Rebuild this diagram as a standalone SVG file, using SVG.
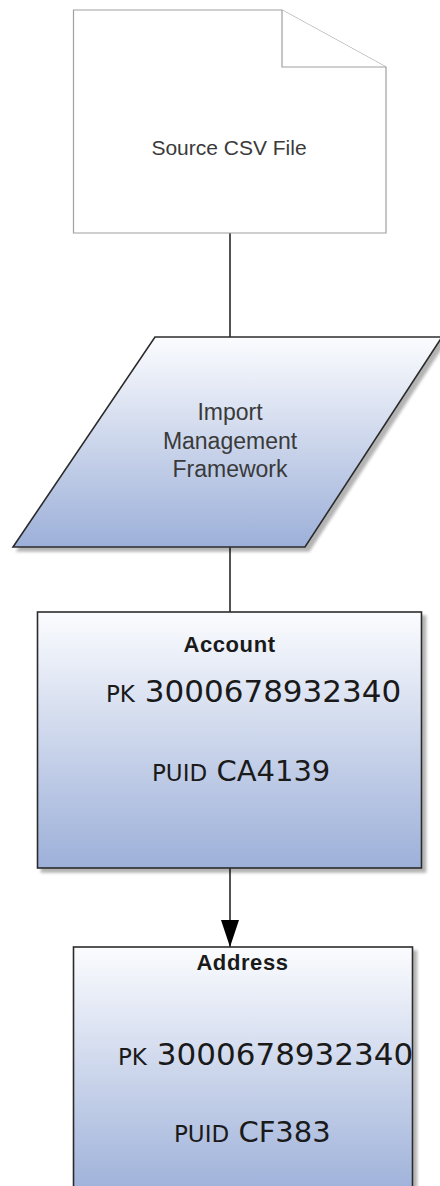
<svg xmlns="http://www.w3.org/2000/svg" width="440" height="1186" viewBox="0 0 440 1186">
<defs>
<linearGradient id="blue" x1="0" y1="0" x2="0" y2="1">
<stop offset="0" stop-color="#fbfcfe"/>
<stop offset="1" stop-color="#9db0d9"/>
</linearGradient>
<filter id="shadow" x="-10%" y="-10%" width="125%" height="125%">
<feGaussianBlur in="SourceAlpha" stdDeviation="1.5"/>
<feOffset dx="4" dy="4" result="b"/>
<feComponentTransfer><feFuncA type="linear" slope="0.3"/></feComponentTransfer>
<feMerge><feMergeNode/><feMergeNode in="SourceGraphic"/></feMerge>
</filter>
<marker id="arrow" markerWidth="27" markerHeight="18" refX="27" refY="9" orient="auto" markerUnits="userSpaceOnUse" viewBox="0 0 27 18">
<path d="M0,0 L27,9 L0,18 Z" fill="#000"/>
</marker>
</defs>
<style>
.doc{fill:#fff;stroke:#a0a0a0;stroke-width:1.2}
.shape{fill:url(#blue);stroke:#2b2b2b;stroke-width:1.6;filter:url(#shadow)}
.conn{stroke:#1a1a1a;stroke-width:1.5;fill:none}
.lbl{font-family:"Liberation Sans",Arial,sans-serif;font-size:21px;fill:#3a3a3a;text-anchor:middle}
.lbl2{font-family:"Liberation Sans",Arial,sans-serif;font-size:23px;fill:#3a3a3a;text-anchor:middle}
.title{font-family:"Liberation Sans",Arial,sans-serif;font-size:22px;font-weight:bold;fill:#1a1a1a;text-anchor:middle;letter-spacing:0.6px}
.small{font-family:"DejaVu Sans",Verdana,sans-serif;font-size:23px;fill:#1a1a1a}
.big{font-family:"DejaVu Sans",Verdana,sans-serif;font-size:31px;fill:#1a1a1a}
.mid{font-family:"DejaVu Sans",Verdana,sans-serif;font-size:29px;fill:#1a1a1a}
</style>
<g id="connectors">
<line class="conn" x1="230" y1="233" x2="230" y2="337"/>
<line class="conn" x1="230" y1="547" x2="230" y2="612"/>
<line class="conn" x1="230" y1="868" x2="230" y2="947" marker-end="url(#arrow)"/>
</g>
<g id="source-csv">
<path class="doc" d="M73.5,10 L282,10 L386,67 L386,233 L73.5,233 Z"/>
<path class="doc" d="M282,10 L282,67 L386,67" fill="none"/>
<text class="lbl" x="229" y="155">Source CSV File</text>
</g>
<g id="import-framework">
<path class="shape" d="M155,337 L442,337 L305,547 L13,547 Z"/>
<text class="lbl2" x="230" y="420">Import</text>
<text class="lbl2" x="230" y="449">Management</text>
<text class="lbl2" x="230" y="477">Framework</text>
</g>
<g id="account">
<rect class="shape" x="37.5" y="612" width="384" height="256"/>
<text class="title" x="229.5" y="652">Account</text>
<text x="106" y="702"><tspan class="small">PK</tspan><tspan class="big"> 3000678932340</tspan></text>
<text x="152" y="781"><tspan class="small">PUID</tspan><tspan class="mid"> CA4139</tspan></text>
</g>
<g id="address">
<rect class="shape" x="73.5" y="947" width="339" height="250"/>
<text class="title" x="242.5" y="970">Address</text>
<text x="118" y="1065"><tspan class="small">PK</tspan><tspan class="big"> 3000678932340</tspan></text>
<text x="174" y="1142"><tspan class="small">PUID</tspan><tspan class="mid"> CF383</tspan></text>
</g>
</svg>
